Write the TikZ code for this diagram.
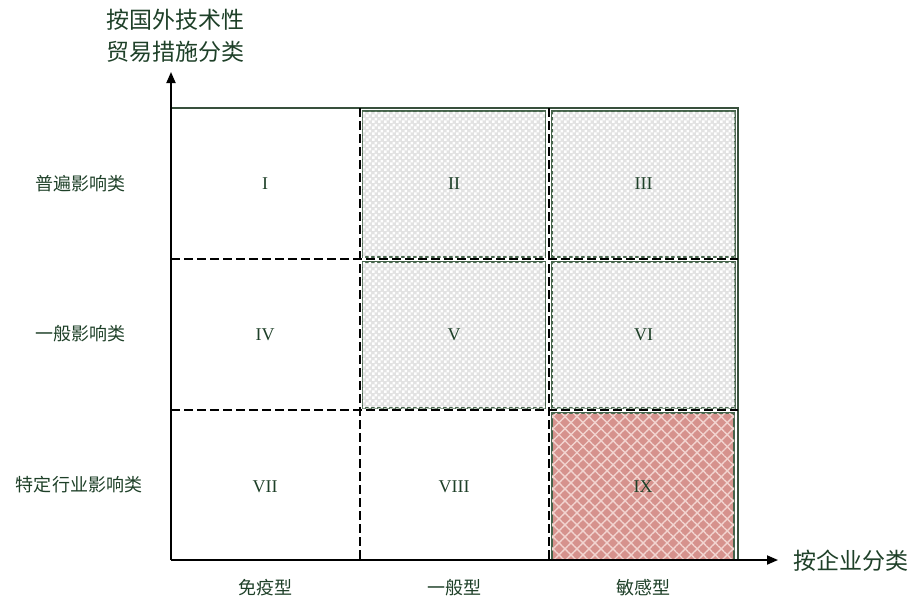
\documentclass[tikz,border=0pt]{standalone}
\usepackage{fontspec}
\setmainfont{Liberation Serif}
\newfontfamily\cjk{Noto Sans CJK SC}
\usetikzlibrary{patterns.meta,arrows.meta}
\definecolor{txtgreen}{RGB}{30,64,40}
\definecolor{boxgreen}{RGB}{70,100,75}
\definecolor{lightgray}{RGB}{226,226,226}
\definecolor{pinkfill}{RGB}{214,146,141}
\definecolor{pinkline}{RGB}{242,212,208}
\tikzdeclarepattern{name=checker, type=uncolored, bottom left={(0pt,0pt)}, top right={(6pt,6pt)}, tile size={(6pt,6pt)},
  code={\fill (0pt,0pt) rectangle (3pt,3pt); \fill (3pt,3pt) rectangle (6pt,6pt);}}
\tikzset{
  axisline/.style={line width=1.8pt, black, -{Triangle[length=11pt,width=9pt]}},
  gridsolid/.style={line width=1.6pt, boxgreen!80!black},
  griddash/.style={line width=1.6pt, black, dash pattern=on 9pt off 4pt},
  graybox/.style={draw=boxgreen, line width=1.4pt, fill=lightgray, postaction={pattern=checker, pattern color=white},
    minimum width=183pt, minimum height=146pt, inner sep=0pt, text=txtgreen, font=\fontsize{18}{20}\selectfont},
  pinkbox/.style={draw=boxgreen, line width=1.4pt, fill=pinkfill,
    postaction={pattern={Lines[angle=45,distance=8.5pt,line width=1.4pt]}, pattern color=pinkline},
    postaction={pattern={Lines[angle=-45,distance=8.5pt,line width=1.4pt]}, pattern color=pinkline},
    minimum width=182pt, minimum height=147pt, inner sep=0pt, text=txtgreen, font=\fontsize{18}{20}\selectfont},
  celltext/.style={text=txtgreen, font=\fontsize{18}{20}\selectfont},
  rowlabel/.style={text=txtgreen, font=\cjk\fontsize{18}{20}\selectfont},
  axistitle/.style={text=txtgreen, font=\cjk\fontsize{23}{32}\selectfont, align=center},
}
\begin{document}
\begin{tikzpicture}[x=1pt,y=-1pt]
\useasboundingbox (0,0) rectangle (912,597);
% shaded boxes
\node[graybox] (c12) at (454,184) {II};
\node[graybox] (c13) at (643.5,184) {III};
\node[graybox] (c22) at (454,335) {V};
\node[graybox] (c23) at (643.5,335) {VI};
\node[pinkbox] (c33) at (643,486.5) {IX};
% plain cells
\node[celltext] (c11) at (265,184) {I};
\node[celltext] (c21) at (265,335) {IV};
\node[celltext] (c31) at (265,487) {VII};
\node[celltext] (c32) at (454,487) {VIII};
% grid coordinates
\coordinate (O) at (171,560);
\coordinate (TL) at (171,108);
\coordinate (TR) at (738,108);
\coordinate (BR) at (738,560);
\coordinate (ytop) at (171,72);
\coordinate (xend) at (778,560);
\coordinate (v1t) at (360,108); \coordinate (v1b) at (360,560);
\coordinate (v2t) at (549,108); \coordinate (v2b) at (549,560);
\coordinate (h1l) at (171,259); \coordinate (h1r) at (738,259);
\coordinate (h2l) at (171,410); \coordinate (h2r) at (738,410);
% outer frame
\draw[gridsolid] (TL) -- (TR) -- (BR);
% dashed grid
\draw[griddash] (v1t) -- (v1b);
\draw[griddash] (v2t) -- (v2b);
\draw[griddash] (h1l) -- (h1r);
\draw[griddash] (h2l) -- (h2r);
% axes
\draw[axisline] (O) -- (ytop);
\draw[axisline] (O) -- (xend);
% axis titles
\node[axistitle] (ytitle) at (175,36) {按国外技术性\\贸易措施分类};
\node[axistitle, anchor=west] (xtitle) at (790,561) {按企业分类};
% row labels
\node[rowlabel] (r1) at (80,184) {普遍影响类};
\node[rowlabel] (r2) at (80,334) {一般影响类};
\node[rowlabel] (r3) at (79,485) {特定行业影响类};
% column labels
\node[rowlabel] (k1) at (265,588) {免疫型};
\node[rowlabel] (k2) at (454,588) {一般型};
\node[rowlabel] (k3) at (643,588) {敏感型};
\end{tikzpicture}
\end{document}
